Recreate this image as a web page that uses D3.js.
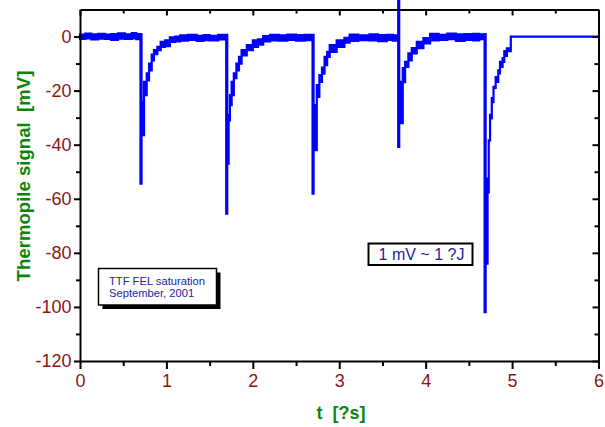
<!DOCTYPE html>
<html>
<head>
<meta charset="utf-8">
<script src="https://cdn.jsdelivr.net/npm/d3@7"></script>
<style>
  html, body { margin: 0; padding: 0; background: #ffffff; }
  svg { display: block; font-family: "Liberation Sans", Arial, Helvetica, sans-serif; }
</style>
</head>
<body>
<svg id="chart" width="605" height="427"></svg>
<script>
// Thermopile trace stored as a min/max envelope: each bin starts at timeS[i]
// and spans lowMV[i] .. highMV[i] until the next bin.
const timeS = [
  0.000, 0.060, 0.130, 0.210, 0.290, 0.360, 0.440, 0.520, 0.600, 0.650,
  0.700, 0.712, 0.741, 0.772, 0.799, 0.830, 0.856, 0.895, 0.934, 0.984,
  1.040, 1.100, 1.160, 1.250, 1.350, 1.430, 1.500, 1.600,
  1.692, 1.704, 1.720, 1.735, 1.755, 1.780, 1.810, 1.840, 1.870, 1.930,
  2.000, 2.060, 2.120, 2.200, 2.300, 2.400, 2.500, 2.600,
  2.691, 2.703, 2.740, 2.770, 2.800, 2.830, 2.860, 2.890, 2.970, 3.060,
  3.120, 3.220, 3.350, 3.450, 3.550, 3.620,
  3.682, 3.694, 3.735, 3.762, 3.800, 3.839, 3.897, 3.974, 4.051,
  4.150, 4.250, 4.350, 4.450, 4.550, 4.620,
  4.682, 4.694, 4.716, 4.730, 4.745, 4.765, 4.785, 4.810, 4.840, 4.860,
  4.890, 4.910, 4.940, 4.985, 6.000
];
const lowMV = [
  -0.9, -0.7, -1.1, -0.8, -0.9, -1.2, -0.8, -0.9, -0.7, -1.0,
  -54.4, -36.5, -21.7, -16.2, -12.5, -8.8, -6.5, -5.0, -3.8, -3.6,
  -2.0, -1.8, -1.5, -1.2, -1.6, -1.3, -1.4, -1.1,
  -65.5, -47.0, -31.0, -25.4, -21.7, -15.4, -12.5, -10.0, -7.0, -5.0,
  -3.8, -3.0, -1.8, -1.4, -1.5, -1.2, -1.5, -1.3,
  -58.1, -42.0, -22.3, -16.8, -13.7, -10.6, -7.5, -5.7, -3.8, -2.3,
  -1.6, -1.3, -1.4, -1.7, -1.2, -1.5,
  -40.8, -32.0, -16.9, -11.2, -8.8, -6.2, -4.3, -2.5, -1.4,
  -1.2, -1.0, -1.6, -1.2, -1.4, -1.0,
  -101.9, -84.0, -57.6, -38.4, -30.3, -24.3, -19.0, -16.8, -13.6, -11.2,
  -9.4, -7.2, -5.4, 0.0, 0.0
];
const highMV = [
  0.7, 1.1, 0.8, 1.0, 0.7, 0.9, 1.2, 0.8, 1.3, 0.9,
  0.8, -24.2, -16.8, -13.6, -10.0, -6.7, -5.0, -3.8, -2.0, -1.4,
  -0.3, 0.0, 0.4, 0.6, 0.3, 0.5, 0.3, 0.6,
  0.6, -29.0, -29.0, -21.7, -16.8, -13.6, -10.0, -7.5, -5.0, -3.2,
  -1.4, -1.0, 0.2, 0.6, 0.4, 0.7, 0.5, 0.6,
  0.6, -25.4, -18.0, -14.3, -11.5, -7.5, -5.7, -3.2, -1.4, -0.5,
  0.7, 0.4, 0.8, 0.5, 0.6, 0.4,
  14.0, -16.8, -11.7, -9.4, -6.2, -4.3, -2.0, -0.6, 1.0,
  0.6, 1.1, 0.8, 0.9, 1.0, 0.8,
  0.9, -52.5, -52.5, -38.4, -29.0, -22.8, -18.6, -15.0, -12.5, -9.4,
  -8.0, -5.4, -4.4, 0.0, 0.0
];

const xTicks = [0, 1, 2, 3, 4, 5, 6];
const xMinorTicks = [0.5, 1.5, 2.5, 3.5, 4.5, 5.5];
const yTicks = [0, -20, -40, -60, -80, -100, -120];
const yMinorTicks = [-10, -30, -50, -70, -90, -110];

const xTitle = "t  [?s]";
const yTitle = "Thermopile signal  [mV]";
const runNote = ["TTF FEL saturation", "September, 2001"];
const unitNote = "1 mV ~ 1 ?J";

const traceColor = "#0000ff";
const tickColor = "#8c1616";
const titleColor = "#0a870a";
const noteColor = "#2323a0";

const svg = d3.select("#chart");

const plotLeft = 80, plotRight = 598.5, plotTop = 9.5, plotBottom = 361;
const x = d3.scaleLinear().domain([0, 6]).range([plotLeft, plotRight]);
const y = d3.scaleLinear().domain([-120, 10]).range([plotBottom, plotTop]);

const bins = timeS.map((t, i) => ({ t, lo: lowMV[i], hi: highMV[i] }));

// plain ASCII hyphen for negative labels
const plainNumber = d => String(d);

// trace envelope
const area = d3.area()
  .curve(d3.curveStepAfter)
  .x(d => x(d.t))
  .y0(d => y(d.lo))
  .y1(d => y(d.hi));

svg.append("path")
  .datum(bins)
  .attr("d", area)
  .attr("fill", traceColor)
  .attr("stroke", traceColor)
  .attr("stroke-width", 2.2)
  .attr("stroke-linejoin", "miter");

// axes
function styleAxis(g) {
  g.select(".domain").attr("stroke", "#000").attr("stroke-width", 2);
  g.selectAll(".tick line").attr("stroke", "#000").attr("stroke-width", 2);
}

const gBottom = svg.append("g").attr("transform", `translate(0,${plotBottom})`)
  .call(d3.axisBottom(x).tickValues(xTicks).tickSizeInner(8).tickSizeOuter(0)
    .tickPadding(5).tickFormat(plainNumber));
styleAxis(gBottom);
svg.append("g").attr("transform", `translate(0,${plotBottom})`)
  .call(d3.axisBottom(x).tickValues(xMinorTicks).tickSizeInner(5).tickSizeOuter(0).tickFormat(""))
  .call(g => g.select(".domain").remove())
  .call(styleAxis);

const gLeft = svg.append("g").attr("transform", `translate(${plotLeft},0)`)
  .call(d3.axisLeft(y).tickValues(yTicks).tickSizeInner(6).tickSizeOuter(0)
    .tickPadding(2.5).tickFormat(plainNumber));
styleAxis(gLeft);
svg.append("g").attr("transform", `translate(${plotLeft},0)`)
  .call(d3.axisLeft(y).tickValues(yMinorTicks).tickSizeInner(4).tickSizeOuter(0).tickFormat(""))
  .call(g => g.select(".domain").remove())
  .call(styleAxis);

const gTop = svg.append("g").attr("transform", `translate(0,${plotTop})`)
  .call(d3.axisTop(x).tickValues(xTicks).tickSizeInner(-6).tickSizeOuter(0).tickFormat(""));
styleAxis(gTop);
svg.append("g").attr("transform", `translate(0,${plotTop})`)
  .call(d3.axisTop(x).tickValues(xMinorTicks).tickSizeInner(-4).tickSizeOuter(0).tickFormat(""))
  .call(g => g.select(".domain").remove())
  .call(styleAxis);

const gRight = svg.append("g").attr("transform", `translate(${plotRight},0)`)
  .call(d3.axisRight(y).tickValues(yTicks).tickSizeInner(-6).tickSizeOuter(0).tickFormat(""));
styleAxis(gRight);
svg.append("g").attr("transform", `translate(${plotRight},0)`)
  .call(d3.axisRight(y).tickValues(yMinorTicks).tickSizeInner(-4).tickSizeOuter(0).tickFormat(""))
  .call(g => g.select(".domain").remove())
  .call(styleAxis);

svg.selectAll(".tick text")
  .attr("fill", tickColor)
  .attr("font-size", 18)
  .attr("font-family", "'Liberation Sans', Arial, sans-serif");

// axis titles
svg.append("text")
  .attr("x", 341).attr("y", 419)
  .attr("text-anchor", "middle")
  .attr("font-size", 18).attr("font-weight", "bold")
  .attr("fill", titleColor)
  .style("white-space", "pre")
  .text(xTitle);

svg.append("text")
  .attr("transform", "translate(30,176) rotate(-90)")
  .attr("text-anchor", "middle")
  .attr("font-size", 18.6).attr("font-weight", "bold")
  .attr("fill", titleColor)
  .style("white-space", "pre")
  .text(yTitle);

// run note with drop shadow
const n1 = svg.append("g").attr("transform", "translate(98.5,268.5)");
n1.append("rect").attr("x", 4).attr("y", 4).attr("width", 118).attr("height", 36.5).attr("fill", "#000");
n1.append("rect").attr("width", 118).attr("height", 36.5)
  .attr("fill", "#fff").attr("stroke", "#000").attr("stroke-width", 1.5);
n1.selectAll("text").data(runNote).join("text")
  .attr("x", 10.5).attr("y", (d, i) => 16.5 + i * 12)
  .attr("font-size", 11.2)
  .attr("fill", noteColor)
  .text(d => d);

// unit note
const n2 = svg.append("g").attr("transform", "translate(368.5,243.5)");
n2.append("rect").attr("width", 104).attr("height", 21.5)
  .attr("fill", "#fff").attr("stroke", "#000").attr("stroke-width", 2);
n2.append("text")
  .attr("x", 53).attr("y", 16.5)
  .attr("text-anchor", "middle")
  .attr("font-size", 16)
  .attr("fill", noteColor)
  .style("white-space", "pre")
  .text(unitNote);
</script>
</body>
</html>
